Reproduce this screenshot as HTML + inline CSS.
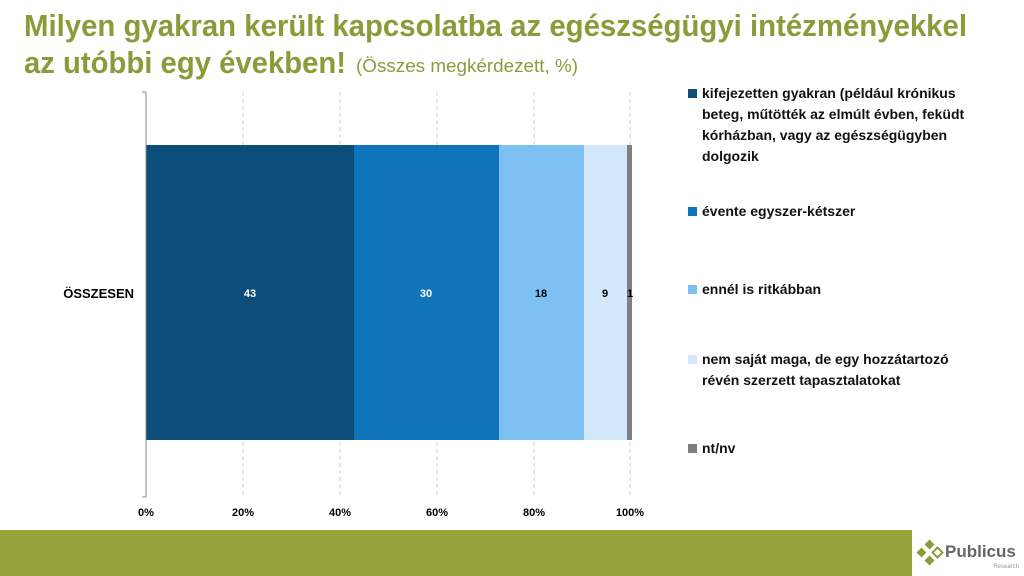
<!DOCTYPE html>
<html><head><meta charset="utf-8"><style>
html,body{margin:0;padding:0;background:#fff;width:1024px;height:576px;overflow:hidden}
svg{display:block}
text{font-family:"Liberation Sans",sans-serif}
</style></head><body>
<svg width="1024" height="576" viewBox="0 0 1024 576">
<text x="24" y="36" font-size="31" font-weight="bold" fill="#8c9b3a" textLength="943" lengthAdjust="spacingAndGlyphs">Milyen gyakran került kapcsolatba az egészségügyi intézményekkel</text>
<text x="24" y="73" font-size="31" font-weight="bold" fill="#8c9b3a" textLength="322" lengthAdjust="spacingAndGlyphs">az utóbbi egy években!</text>
<text x="356" y="72" font-size="18" fill="#8c9b3a" textLength="222" lengthAdjust="spacingAndGlyphs">(Összes megkérdezett, %)</text>
<g stroke="#d0d0d0" stroke-dasharray="4,3" stroke-width="1">
<line x1="243" y1="92" x2="243" y2="497"/><line x1="340" y1="92" x2="340" y2="497"/>
<line x1="437" y1="92" x2="437" y2="497"/><line x1="534" y1="92" x2="534" y2="497"/>
<line x1="630" y1="92" x2="630" y2="497"/>
</g>
<rect x="146" y="145" width="208" height="295" fill="#0d4d7a"/>
<rect x="354" y="145" width="145" height="295" fill="#1074bb"/>
<rect x="499" y="145" width="85" height="295" fill="#7cc1f2"/>
<rect x="584" y="145" width="43" height="295" fill="#d2e8fa"/>
<rect x="627" y="145" width="5" height="295" fill="#7f7f7f"/>
<line x1="146" y1="92" x2="146" y2="497" stroke="#888"/>
<line x1="142" y1="92" x2="146" y2="92" stroke="#888"/>
<line x1="142" y1="497" x2="146" y2="497" stroke="#888"/>
<g font-size="11" font-weight="bold" text-anchor="middle">
<text x="250" y="297" fill="#fff">43</text>
<text x="426" y="297" fill="#fff">30</text>
<text x="541" y="297" fill="#000">18</text>
<text x="605" y="297" fill="#000">9</text>
<text x="630" y="297" fill="#000">1</text>
</g>
<text x="134" y="298" font-size="13" font-weight="bold" text-anchor="end">ÖSSZESEN</text>
<g font-size="11" font-weight="bold" text-anchor="middle">
<text x="146" y="516">0%</text><text x="243" y="516">20%</text><text x="340" y="516">40%</text>
<text x="437" y="516">60%</text><text x="534" y="516">80%</text><text x="630" y="516">100%</text>
</g>
<g font-size="14" font-weight="bold" fill="#111">
<rect x="688" y="89" width="9" height="9" fill="#0d4d7a"/>
<text x="702" y="98">kifejezetten gyakran (például krónikus</text>
<text x="702" y="119">beteg, műtötték az elmúlt évben, feküdt</text>
<text x="702" y="140">kórházban, vagy az egészségügyben</text>
<text x="702" y="161">dolgozik</text>
<rect x="688" y="207" width="9" height="9" fill="#1074bb"/>
<text x="702" y="216">évente egyszer-kétszer</text>
<rect x="688" y="285" width="9" height="9" fill="#7cc1f2"/>
<text x="702" y="294">ennél is ritkábban</text>
<rect x="688" y="355" width="9" height="9" fill="#d2e8fa"/>
<text x="702" y="364">nem saját maga, de egy hozzátartozó</text>
<text x="702" y="385">révén szerzett tapasztalatokat</text>
<rect x="688" y="444" width="9" height="9" fill="#7f7f7f"/>
<text x="702" y="453">nt/nv</text>
</g>
<rect x="0" y="530" width="912" height="46" fill="#97a23b"/>
<g fill="#8c9b3a">
<rect x="926" y="541" width="7" height="7" transform="rotate(45 929.5 544.5)"/>
<rect x="918" y="549" width="7" height="7" transform="rotate(45 921.5 552.5)"/>
<rect x="926" y="557" width="7" height="7" transform="rotate(45 929.5 560.5)"/>
<rect x="934" y="549" width="7" height="7" transform="rotate(45 937.5 552.5)" fill="#fff" stroke="#8c9b3a" stroke-width="2"/>
</g>
<text x="945" y="557" font-size="17" font-weight="bold" fill="#666">Publicus</text>
<text x="1019" y="568" font-size="6" fill="#999" text-anchor="end">Research</text>
</svg>
</body></html>
